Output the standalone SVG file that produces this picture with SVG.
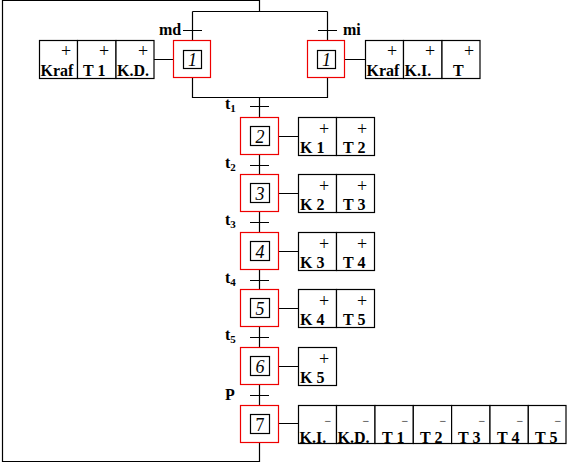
<svg xmlns="http://www.w3.org/2000/svg" width="567" height="463" viewBox="0 0 567 463">
<style>
.ln{fill:none;stroke:#000;stroke-width:1.2}
.st{fill:#fff;stroke:#e00;stroke-width:1.2}
.in{fill:#fff;stroke:#000;stroke-width:1.2}
.cell{fill:#fff;stroke:#000;stroke-width:1.2}
.num{font-family:"Liberation Serif","DejaVu Serif",serif;font-style:italic;font-size:18px;text-anchor:middle}
.lab{font-family:"Liberation Serif","DejaVu Serif",serif;font-weight:bold;font-size:16px}
.sub{font-size:11px}
.act{font-family:"Liberation Serif","DejaVu Serif",serif;font-weight:bold;font-size:16px}
.pl{font-family:"Liberation Serif","DejaVu Serif",serif;font-size:18px;text-anchor:middle}
.mn{font-family:"Liberation Serif","DejaVu Serif",serif;font-size:12px;text-anchor:middle}
</style>
<rect width="567" height="463" fill="#fff"/>
<g id="connectors">
<path class="ln" d="M260,0.5 H2.5 V461.5 H259.5 M259.5,0 V11.5 M192.5,11.5 H327.5 M192.5,11.5 V40 M327.5,11.5 V40 M192.5,77 V97.5 H327.5 V77 M259.5,97.5 V117 M259.5,154 V175 M259.5,212 V232 M259.5,269 V290 M259.5,327 V347 M259.5,384 V405 M259.5,442 V462"/>
<path class="ln" d="M183,30.5 H202 M318,30.5 H337 M250,106.5 H269 M250,165.5 H269 M250,222.5 H269 M250,280.5 H269 M250,337.5 H269 M250,395.5 H269"/>
<path class="ln" d="M154,59.5 H173 M345,59.5 H365 M279,136.5 H298 M279,193.5 H298 M279,251.5 H298 M279,308.5 H298 M279,366.5 H298 M279,423.5 H298"/>
</g>
<g id="labels">
<text class="lab" x="159" y="35">md</text>
<text class="lab" x="343" y="35">mi</text>
<text class="lab" x="225" y="109">t<tspan class="sub" dy="3">1</tspan></text>
<text class="lab" x="225" y="168">t<tspan class="sub" dy="3">2</tspan></text>
<text class="lab" x="225" y="225">t<tspan class="sub" dy="3">3</tspan></text>
<text class="lab" x="225" y="283">t<tspan class="sub" dy="3">4</tspan></text>
<text class="lab" x="225" y="340">t<tspan class="sub" dy="3">5</tspan></text>
<text class="lab" x="225" y="400">P</text>
</g>
<g id="step1L"><rect class="st" x="173.5" y="40.5" width="37" height="37"/><rect class="in" x="183.5" y="50.5" width="18" height="18"/><text class="num" x="192.5" y="65.5">1</text></g>
<g id="step1R"><rect class="st" x="307.5" y="40.5" width="37" height="37"/><rect class="in" x="317.5" y="50.5" width="18" height="18"/><text class="num" x="326.5" y="65.5">1</text></g>
<g id="step2"><rect class="st" x="240.5" y="117.5" width="38" height="37"/><rect class="in" x="250.5" y="126.5" width="19" height="19"/><text class="num" x="260" y="142.5">2</text></g>
<g id="step3"><rect class="st" x="240.5" y="174.5" width="38" height="37"/><rect class="in" x="250.5" y="183.5" width="19" height="19"/><text class="num" x="260" y="199.5">3</text></g>
<g id="step4"><rect class="st" x="240.5" y="232.5" width="38" height="37"/><rect class="in" x="250.5" y="241.5" width="19" height="19"/><text class="num" x="260" y="257.5">4</text></g>
<g id="step5"><rect class="st" x="240.5" y="289.5" width="38" height="37"/><rect class="in" x="250.5" y="298.5" width="19" height="19"/><text class="num" x="260" y="314.5">5</text></g>
<g id="step6"><rect class="st" x="240.5" y="347.5" width="38" height="37"/><rect class="in" x="250.5" y="356.5" width="19" height="19"/><text class="num" x="260" y="372.5">6</text></g>
<g id="step7"><rect class="st" x="240.5" y="405.5" width="38" height="37"/><rect class="in" x="250.5" y="414.5" width="19" height="19"/><text class="pl" x="260" y="430.5">7</text></g>
<g id="act1L">
<rect class="cell" x="39.5" y="40.5" width="38" height="38"/><rect class="cell" x="77.5" y="40.5" width="38.5" height="38"/><rect class="cell" x="116" y="40.5" width="38" height="38"/>
<text class="pl" x="66" y="57">+</text><text class="pl" x="104" y="57">+</text><text class="pl" x="143" y="57">+</text>
<text class="act" x="40.5" y="75.5">Kraf</text><text class="act" x="83" y="75.5">T 1</text><text class="act" x="117" y="75.5">K.D.</text>
</g>
<g id="act1R">
<rect class="cell" x="365.5" y="40.5" width="38" height="38"/><rect class="cell" x="403.5" y="40.5" width="38.5" height="38"/><rect class="cell" x="442" y="40.5" width="38" height="38"/>
<text class="pl" x="392" y="57">+</text><text class="pl" x="430" y="57">+</text><text class="pl" x="469" y="57">+</text>
<text class="act" x="366.5" y="75.5">Kraf</text><text class="act" x="404.5" y="75.5">K.I.</text><text class="act" x="453" y="75.5">T</text>
</g>
<g id="act2">
<rect class="cell" x="298.5" y="117.5" width="38" height="38"/><rect class="cell" x="336.5" y="117.5" width="38" height="38"/>
<text class="pl" x="324" y="135">+</text><text class="pl" x="362" y="135">+</text>
<text class="act" x="300" y="153">K 1</text><text class="act" x="343" y="153">T 2</text>
</g>
<g id="act3">
<rect class="cell" x="298.5" y="174.5" width="38" height="38"/><rect class="cell" x="336.5" y="174.5" width="38" height="38"/>
<text class="pl" x="324" y="192">+</text><text class="pl" x="362" y="192">+</text>
<text class="act" x="300" y="210">K 2</text><text class="act" x="343" y="210">T 3</text>
</g>
<g id="act4">
<rect class="cell" x="298.5" y="232.5" width="38" height="38"/><rect class="cell" x="336.5" y="232.5" width="38" height="38"/>
<text class="pl" x="324" y="250">+</text><text class="pl" x="362" y="250">+</text>
<text class="act" x="300" y="268">K 3</text><text class="act" x="343" y="268">T 4</text>
</g>
<g id="act5">
<rect class="cell" x="298.5" y="289.5" width="38" height="38"/><rect class="cell" x="336.5" y="289.5" width="38" height="38"/>
<text class="pl" x="324" y="307">+</text><text class="pl" x="362" y="307">+</text>
<text class="act" x="300" y="325">K 4</text><text class="act" x="343" y="325">T 5</text>
</g>
<g id="act6">
<rect class="cell" x="298.5" y="347.5" width="38" height="38"/>
<text class="pl" x="324" y="365">+</text>
<text class="act" x="300" y="383">K 5</text>
</g>
<g id="act7">
<rect class="cell" x="298.5" y="405.5" width="38" height="38"/><rect class="cell" x="336.5" y="405.5" width="38.5" height="38"/><rect class="cell" x="375" y="405.5" width="38.3" height="38"/><rect class="cell" x="413.3" y="405.5" width="38.3" height="38"/><rect class="cell" x="451.6" y="405.5" width="38.4" height="38"/><rect class="cell" x="490" y="405.5" width="38.3" height="38"/><rect class="cell" x="528.3" y="405.5" width="37.7" height="38"/>
<text class="mn" x="328" y="425">−</text><text class="mn" x="366" y="425">−</text><text class="mn" x="405" y="425">−</text><text class="mn" x="443" y="425">−</text><text class="mn" x="482" y="425">−</text><text class="mn" x="520" y="425">−</text><text class="mn" x="558" y="425">−</text>
<text class="act" x="299.5" y="442.5">K.I.</text><text class="act" x="337.5" y="442.5">K.D.</text><text class="act" x="382" y="442.5">T 1</text><text class="act" x="420" y="442.5">T 2</text><text class="act" x="458" y="442.5">T 3</text><text class="act" x="497" y="442.5">T 4</text><text class="act" x="535" y="442.5">T 5</text>
</g>
</svg>
